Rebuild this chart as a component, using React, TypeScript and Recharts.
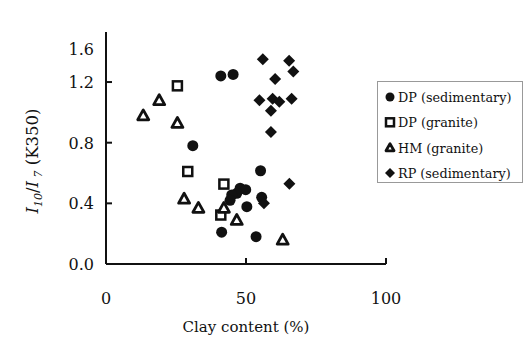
import React from "react"
import {
  ScatterChart,
  Scatter,
  XAxis,
  YAxis,
  Legend,
} from "recharts"

// DP (sedimentary)
const DP_SED_X = [41, 45.4, 31, 55.2, 47.9, 49.9, 46.7, 44.9, 44.3, 50.3, 55.6, 41.3, 53.6]
const DP_SED_Y = [1.24, 1.25, 0.78, 0.615, 0.5, 0.49, 0.466, 0.455, 0.42, 0.378, 0.44, 0.21, 0.18]

// DP (granite)
const DP_GRA_X = [25.5, 29.2, 42.1, 41]
const DP_GRA_Y = [1.175, 0.61, 0.527, 0.323]

// HM (granite)
const HM_GRA_X = [13.3, 19, 25.5, 27.9, 33, 42.1, 46.7, 63.1]
const HM_GRA_Y = [0.98, 1.08, 0.93, 0.43, 0.37, 0.37, 0.29, 0.16]

// RP (sedimentary)
const RP_SED_X = [56, 65.4, 66.9, 60.4, 54.8, 59.5, 61.9, 66.3, 58.9, 58.9, 65.5, 56.4]
const RP_SED_Y = [1.35, 1.34, 1.27, 1.22, 1.08, 1.09, 1.07, 1.09, 1.01, 0.87, 0.53, 0.4]

const X_TICKS = [0, 50, 100]
// top label sits below the axis end in the original figure
const Y_TICKS = [0, 0.4, 0.8, 1.2, 1.42]
const Y_TICK_LABELS = ["0.0", "0.4", "0.8", "1.2", "1.6"]

const SERIES_NAMES = ["DP (sedimentary)", "DP (granite)", "HM (granite)", "RP (sedimentary)"]

const INK = "#111"
const FONT = "'DejaVu Serif', serif"

const zip = (xs: number[], ys: number[]) => xs.map((x, i) => ({ x, y: ys[i] }))

const CircleMark = ({ cx, cy, r = 5.5 }: any) => <circle cx={cx} cy={cy} r={r} fill={INK} />

const SquareMark = ({ cx, cy, s = 4.5 }: any) => (
  <rect
    x={cx - s}
    y={cy - s}
    width={s * 2}
    height={s * 2}
    fill="#fff"
    stroke={INK}
    strokeWidth={2.5}
  />
)

const TriangleMark = ({ cx, cy, s = 5.5 }: any) => (
  <polygon
    points={`${cx},${cy - s} ${cx - s},${cy + s * 0.8} ${cx + s},${cy + s * 0.8}`}
    fill="#fff"
    stroke={INK}
    strokeWidth={2.8}
    strokeLinejoin="round"
  />
)

const DiamondMark = ({ cx, cy, s = 6 }: any) => (
  <polygon
    points={`${cx},${cy - s} ${cx + s},${cy} ${cx},${cy + s} ${cx - s},${cy}`}
    fill={INK}
  />
)

const MARKS = [CircleMark, SquareMark, TriangleMark, DiamondMark]

const YTick = ({ x, y, payload }: any) => {
  const i = Y_TICKS.indexOf(payload.value)
  const isTop = i === Y_TICKS.length - 1
  return (
    <g>
      {!isTop && <line x1={x} y1={y} x2={x + 6} y2={y} stroke={INK} strokeWidth={2} />}
      <text x={x - 12} y={y} dy={6} textAnchor="end" fontFamily={FONT} fontSize={16} fill={INK}>
        {Y_TICK_LABELS[i]}
      </text>
    </g>
  )
}

const XTick = ({ x, y, payload }: any) => (
  <g>
    {payload.value !== 0 && <line x1={x} y1={y} x2={x} y2={y - 6} stroke={INK} strokeWidth={2} />}
    <text x={x} y={y + 40} textAnchor="middle" fontFamily={FONT} fontSize={16} fill={INK}>
      {payload.value}
    </text>
  </g>
)

const XLabel = () => (
  <text x={246} y={332} textAnchor="middle" fontFamily={FONT} fontSize={15} fill={INK}>
    Clay content (%)
  </text>
)

const YLabel = () => (
  <text
    x={0}
    y={0}
    transform="translate(38,161) rotate(-90)"
    textAnchor="middle"
    fontFamily={FONT}
    fontSize={16.5}
    fill={INK}
  >
    <tspan fontStyle="italic">I</tspan>
    <tspan fontStyle="italic" fontSize={11} dy={4}>10</tspan>
    <tspan dy={-4}>/</tspan>
    <tspan fontStyle="italic">I</tspan>
    <tspan fontStyle="italic" fontSize={11} dy={4}> 7</tspan>
    <tspan dy={-4}> (K350)</tspan>
  </text>
)

const LegendBox = () => (
  <div
    style={{
      width: 146,
      height: 102,
      border: "1px solid #999",
      boxSizing: "border-box",
      background: "#fff",
      padding: "6px 0 0 5px",
    }}
  >
    <svg width={140} height={94}>
      {SERIES_NAMES.map((name, i) => {
        const Mark = MARKS[i]
        const cy = 9 + i * 25.3
        return (
          <g key={name}>
            <Mark cx={7} cy={cy} r={4.5} s={i === 3 ? 5 : 4} />
            <text x={15} y={cy + 5} fontFamily={FONT} fontSize={12.8} fill={INK}>
              {name}
            </text>
          </g>
        )
      })}
    </svg>
  </div>
)

export default function App() {
  const series = [
    zip(DP_SED_X, DP_SED_Y),
    zip(DP_GRA_X, DP_GRA_Y),
    zip(HM_GRA_X, HM_GRA_Y),
    zip(RP_SED_X, RP_SED_Y),
  ]

  return (
    <div style={{ position: "absolute", left: 0, top: 0, background: "#fff" }}>
      <ScatterChart
        width={527}
        height={341}
        margin={{ top: 32, right: 141, left: 0, bottom: 27 }}
      >
        <XAxis
          type="number"
          dataKey="x"
          domain={[0, 100]}
          ticks={X_TICKS}
          height={50}
          stroke={INK}
          strokeWidth={2}
          tickLine={false}
          tickSize={0}
          tickMargin={0}
          tick={<XTick />}
          label={{ content: () => <XLabel /> }}
        />
        <YAxis
          type="number"
          dataKey="y"
          domain={[0, 1.53]}
          ticks={Y_TICKS}
          width={106}
          stroke={INK}
          strokeWidth={2}
          tickLine={false}
          tickSize={0}
          tickMargin={0}
          tick={<YTick />}
          label={{ content: () => <YLabel /> }}
        />
        <Legend
          layout="vertical"
          align="center"
          verticalAlign="middle"
          wrapperStyle={{ position: "absolute", left: 377, top: 81, width: 146 }}
          content={() => <LegendBox />}
        />
        {series.map((data, i) => (
          <Scatter
            key={SERIES_NAMES[i]}
            name={SERIES_NAMES[i]}
            data={data}
            shape={MARKS[i]}
            isAnimationActive={false}
          />
        ))}
      </ScatterChart>
    </div>
  )
}
